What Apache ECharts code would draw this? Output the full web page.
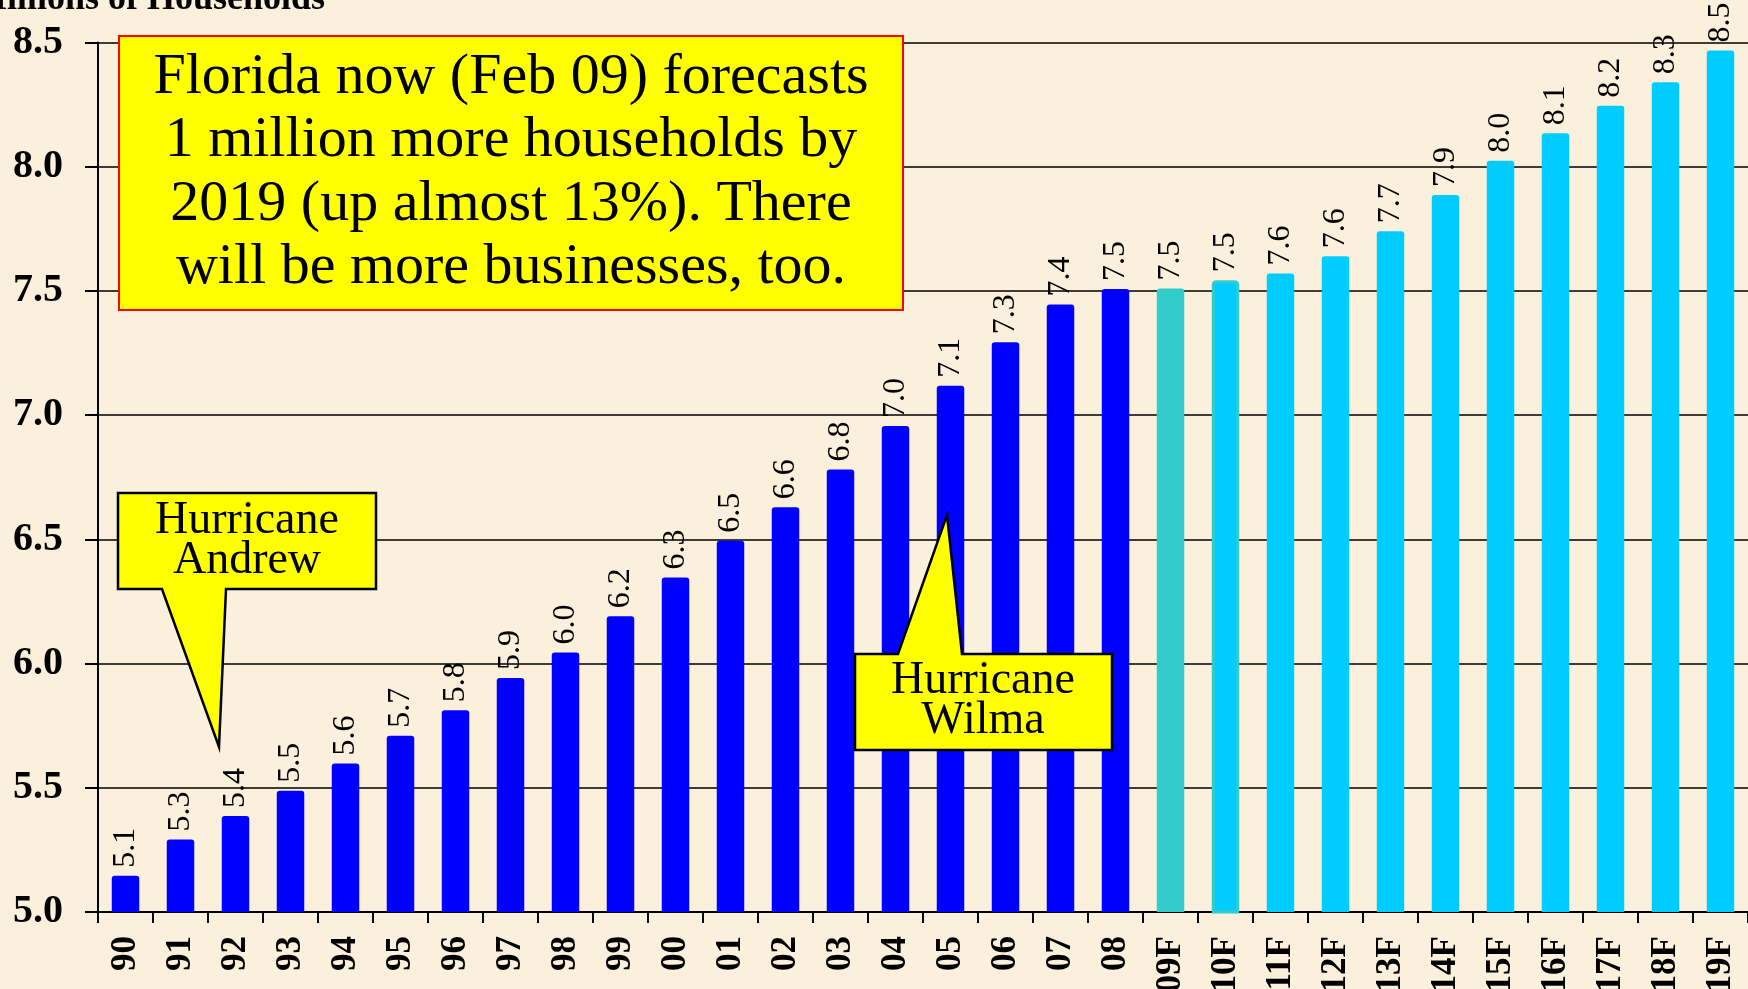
<!DOCTYPE html>
<html>
<head>
<meta charset="utf-8">
<script src="https://cdn.jsdelivr.net/npm/echarts@6/dist/echarts.min.js"></script>
<style>
html,body{margin:0;padding:0;background:#FAF0DB;}
#chart{width:1748px;height:989px;}
</style>
</head>
<body>
<div id="chart"></div>
<script>
const categories = ['90','91','92','93','94','95','96','97','98','99','00','01','02','03','04','05','06','07','08',
  '09F','10F','11F','12F','13F','14F','15F','16F','17F','18F','19F'];
const households = [5.146, 5.292, 5.386, 5.488, 5.598, 5.709, 5.812, 5.942, 6.045, 6.19,
  6.346, 6.494, 6.629, 6.781, 6.956, 7.118, 7.293, 7.445, 7.508,
  7.51, 7.543, 7.57, 7.64, 7.74, 7.886, 8.024, 8.135, 8.245, 8.34, 8.468];
const barKind = ['actual','actual','actual','actual','actual','actual','actual','actual','actual','actual',
  'actual','actual','actual','actual','actual','actual','actual','actual','actual',
  'estimate','blend','forecast','forecast','forecast','forecast','forecast','forecast','forecast','forecast','forecast'];
const yMin = 5.0, yMax = 8.5, yStep = 0.5;
const yTitle = 'Millions of Households';
const noteText = ['Florida now (Feb 09) forecasts', '1 million more households by', '2019 (up almost 13%). There', 'will be more businesses, too.'];
const andrewText = ['Hurricane', 'Andrew'];
const wilmaText = ['Hurricane', 'Wilma'];

const kindStyle = {
  actual:   {color:'#0000FF'},
  estimate: {color:'#33CCCC'},
  blend:    {color:'#00CCFF', borderColor:'#33CCCC', borderWidth:3},
  forecast: {color:'#00CCFF'}
};
const serif = '"Liberation Serif", "Times New Roman", serif';

const chart = echarts.init(document.getElementById('chart'));
chart.setOption({
  backgroundColor: '#FAF0DB',
  animation: false,
  grid: {left: 98, right: 0, top: 42.5, bottom: 77, containLabel: false, outerBoundsMode: 'none'},
  xAxis: {
    type: 'category',
    data: categories,
    axisLine: {lineStyle: {color: '#000', width: 2}},
    axisTick: {show: true, length: 11, lineStyle: {color: '#000', width: 2}},
    axisLabel: {rotate: 90, margin: 24, fontFamily: serif, fontWeight: 'bold', fontSize: 35, color: '#000', interval: 0}
  },
  yAxis: {
    type: 'value',
    min: yMin, max: yMax, interval: yStep,
    axisLine: {show: true, lineStyle: {color: '#000', width: 2}},
    axisTick: {show: true, length: 13, lineStyle: {color: '#000', width: 2}},
    splitLine: {show: true, lineStyle: {color: '#000', width: 1.6}},
    axisLabel: {margin: 35, fontFamily: serif, fontWeight: 'bold', fontSize: 40, color: '#000',
      formatter: v => v.toFixed(1)}
  },
  series: [{
    type: 'bar',
    barWidth: '50%',
    data: households.map((v, i) => ({value: v, itemStyle: Object.assign({borderRadius: [3,3,0,0]}, kindStyle[barKind[i]])})),
    label: {
      show: true, position: 'top', rotate: 90, align: 'left', verticalAlign: 'middle', distance: 8,
      fontFamily: serif, fontSize: 32, color: '#000',
      formatter: p => p.value.toFixed(1)
    }
  }],
  graphic: [
    {type: 'text', z: 100, style: {text: yTitle, x: 325, y: 18, textAlign: 'right', textVerticalAlign: 'bottom',
      font: 'bold 36px ' + serif, fill: '#000'}},
    {type: 'rect', z: 100, shape: {x: 119, y: 36, width: 784, height: 274},
      style: {fill: '#FFFF00', stroke: '#FF0000', lineWidth: 2}},
    {type: 'text', z: 101, style: {text: noteText.join('\n'), x: 511, y: 173, textAlign: 'center', textVerticalAlign: 'middle',
      font: '58px ' + serif, lineHeight: 63.5, fill: '#000'}},
    {type: 'polygon', z: 100, shape: {points: [[118,493],[376,493],[376,589],[226,589],[219,747],[162,589],[118,589]]},
      style: {fill: '#FFFF00', stroke: '#000', lineWidth: 2.5}},
    {type: 'text', z: 101, style: {text: andrewText.join('\n'), x: 247, y: 541, textAlign: 'center', textVerticalAlign: 'middle',
      font: '46px ' + serif, lineHeight: 40, fill: '#000'}},
    {type: 'polygon', z: 100, shape: {points: [[855,654],[898,654],[947,515],[962,654],[1112,654],[1112,750],[855,750]]},
      style: {fill: '#FFFF00', stroke: '#000', lineWidth: 2.5}},
    {type: 'text', z: 101, style: {text: wilmaText.join('\n'), x: 983, y: 701, textAlign: 'center', textVerticalAlign: 'middle',
      font: '46px ' + serif, lineHeight: 40, fill: '#000'}}
  ]
});
</script>
</body>
</html>
